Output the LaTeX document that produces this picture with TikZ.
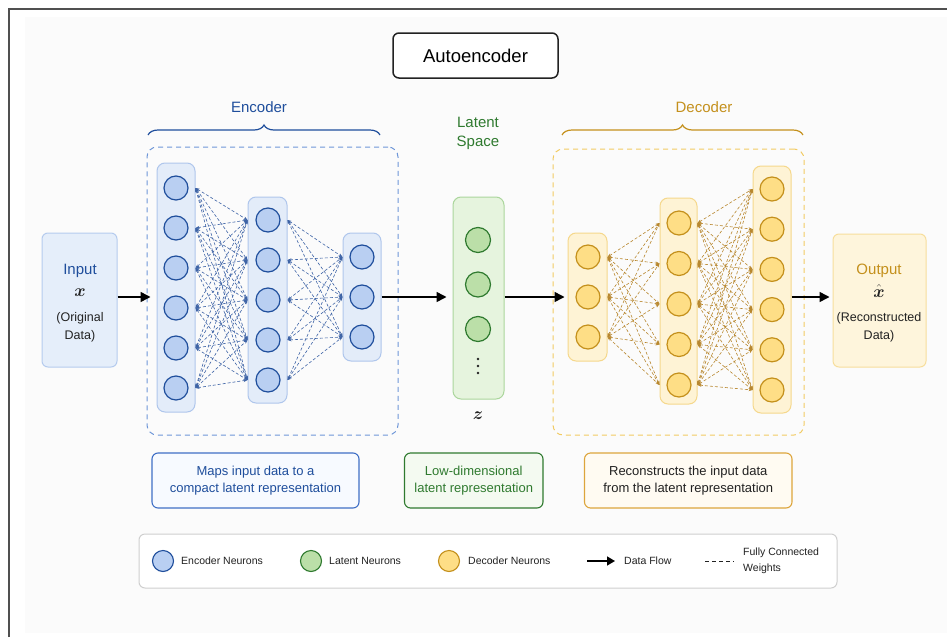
\documentclass[tikz,border=0pt]{standalone}
\usepackage{amsmath}
\usepackage{fontspec}
\setmainfont{Liberation Sans}
\usetikzlibrary{arrows.meta,decorations.pathreplacing,calc}

\definecolor{encdark}{HTML}{1F4E9C}
\definecolor{encfill}{HTML}{B9CFF2}
\definecolor{enccol}{HTML}{E3ECF9}
\definecolor{enccolline}{HTML}{AFC6EC}
\definecolor{encdash}{HTML}{6F97D8}
\definecolor{encwire}{HTML}{3D63A6}
\definecolor{encnote}{HTML}{F7FAFF}
\definecolor{encnoteline}{HTML}{3F6FC6}
\definecolor{latdark}{HTML}{2F7A2F}
\definecolor{latfill}{HTML}{BBDFA8}
\definecolor{latcol}{HTML}{E6F4DE}
\definecolor{latcolline}{HTML}{ABD69C}
\definecolor{latnote}{HTML}{F4FAF1}
\definecolor{decdark}{HTML}{C4901C}
\definecolor{decfill}{HTML}{FEDE86}
\definecolor{deccol}{HTML}{FEF3D5}
\definecolor{deccolline}{HTML}{F5D88C}
\definecolor{decdash}{HTML}{F2CB62}
\definecolor{decwire}{HTML}{B8872E}
\definecolor{decnote}{HTML}{FFFBF2}
\definecolor{decnoteline}{HTML}{DDA53C}
\definecolor{outfill}{HTML}{FEF5DC}
\definecolor{outline}{HTML}{F7DE9C}
\definecolor{infill}{HTML}{E5EEFA}
\definecolor{inline}{HTML}{B5CBEE}
\definecolor{framegray}{HTML}{505050}
\definecolor{pagegray}{HTML}{FBFBFB}
\definecolor{legline}{HTML}{CFCFCF}
\definecolor{textdark}{HTML}{222222}

\begin{document}
\begin{tikzpicture}[x=1pt,y=-1pt,
  column/.style={rectangle,rounded corners=8pt,line width=1pt,inner sep=0pt},
  enccolumn/.style={column,fill=enccol,draw=enccolline},
  latcolumn/.style={column,fill=latcol,draw=latcolline},
  deccolumn/.style={column,fill=deccol,draw=deccolline},
  neuron/.style={circle,minimum size=24pt,inner sep=0pt,line width=1.2pt},
  encneuron/.style={neuron,fill=encfill,draw=encdark},
  latneuron/.style={neuron,minimum size=25pt,fill=latfill,draw=latdark},
  decneuron/.style={neuron,fill=decfill,draw=decdark},
  wire/.style={line width=0.6pt,dash pattern=on 3pt off 2pt,
    {Stealth[length=4pt,width=3pt]}-{Stealth[length=4pt,width=3pt]}},
  flow/.style={line width=1.5pt,draw=black,-{Triangle[length=10pt,width=10pt]}},
  container/.style={rectangle,rounded corners=10pt,line width=1pt,dash pattern=on 5pt off 4pt,inner sep=0pt},
  notebox/.style={rectangle,rounded corners=6pt,line width=1.1pt,inner sep=0pt,align=center,
    font=\fontsize{13}{17}\selectfont},
  lbl/.style={font=\fontsize{15}{18}\selectfont,inner sep=0pt},
  small/.style={font=\fontsize{12.5}{15}\selectfont,inner sep=0pt,text=textdark},
  symb/.style={inner sep=0pt,font=\fontsize{16}{18}\selectfont,text=textdark},
  legtext/.style={font=\fontsize{10.5}{16}\selectfont,inner sep=0pt,anchor=west,text=textdark,align=left},
  legneuron/.style={circle,minimum size=21pt,inner sep=0pt,line width=1.1pt}
]
\useasboundingbox (0,0) rectangle (947,637);

% page and frame
\fill[white] (0,0) rectangle (947,637);
\fill[pagegray] (25,17) rectangle (947,633);
\draw[line width=2pt,framegray] (9,637) -- (9,9) -- (947,9);

% title
\node[rectangle,rounded corners=6pt,draw=textdark,line width=1.5pt,fill=white,
  minimum width=165pt,minimum height=45pt,inner sep=0pt,
  font=\fontsize{18.5}{22}\selectfont,text=black] (title) at (475.5,55.5) {Autoencoder};

% encoder / decoder dashed regions
\node[container,draw=encdash,minimum width=251pt,minimum height=288pt] (encregion) at (272.5,291) {};
\node[container,draw=decdash,minimum width=251pt,minimum height=286pt] (decregion) at (678.5,292) {};

% braces and group labels
\coordinate (encbraceL) at (148,135);
\coordinate (encbraceR) at (380,135);
\draw[encdark,line width=1.2pt,decorate,decoration={brace,amplitude=10pt}] (encbraceL) -- (encbraceR);
\node[lbl,text=encdark] (enclabel) at (259,107) {Encoder};
\coordinate (decbraceL) at (562,135);
\coordinate (decbraceR) at (803,135);
\draw[decdark,line width=1.2pt,decorate,decoration={brace,amplitude=10pt}] (decbraceL) -- (decbraceR);
\node[lbl,text=decdark] (declabel) at (704,107) {Decoder};
\node[lbl,text=latdark] (latlabelA) at (478,122) {Latent};
\node[lbl,text=latdark] (latlabelB) at (478,143) {Space};

% input box
\node[rectangle,rounded corners=6pt,fill=infill,draw=inline,line width=1pt,
  minimum width=75pt,minimum height=134pt,inner sep=0pt] (input) at (79.5,300) {};
\node[lbl,text=encdark] (inputA) at (80,271) {Input};
\node[symb] (inputB) at (80,293) {$\boldsymbol{x}$};
\node[small] (inputC) at (80,318) {(Original};
\node[small] (inputD) at (80,336) {Data)};

% output box
\node[rectangle,rounded corners=6pt,fill=outfill,draw=outline,line width=1pt,
  minimum width=93pt,minimum height=133pt,inner sep=0pt] (output) at (879.5,300.5) {};
\node[lbl,text=decdark] (outputA) at (879,271) {Output};
\node[symb] (outputB) at (879,291) {$\hat{\boldsymbol{x}}$};
\node[small] (outputC) at (879,318) {(Reconstructed};
\node[small] (outputD) at (879,336) {Data)};

% encoder layers
\node[enccolumn,minimum width=38pt,minimum height=249pt] (e1) at (176,287.5) {};
\node[enccolumn,minimum width=39pt,minimum height=206pt] (e2) at (267.5,300) {};
\node[enccolumn,minimum width=38pt,minimum height=128pt] (e3) at (362,297) {};
\foreach \i in {1,...,6} \node[encneuron] (e1-\i) at (176,{188+40*(\i-1)}) {};
\foreach \i in {1,...,5} \node[encneuron] (e2-\i) at (268,{220+40*(\i-1)}) {};
\foreach \i in {1,...,3} \node[encneuron] (e3-\i) at (362,{257+40*(\i-1)}) {};
\foreach \i in {1,...,6} \foreach \j in {1,...,5}
  \draw[wire,encwire] (e1.east |- e1-\i) -- (e2.west |- e2-\j);
\foreach \i in {1,...,5} \foreach \j in {1,...,3}
  \draw[wire,encwire] (e2.east |- e2-\i) -- (e3.west |- e3-\j);

% latent layer
\node[latcolumn,minimum width=51pt,minimum height=202pt] (lat) at (478.5,298) {};
\foreach \i in {1,...,3} \node[latneuron] (l-\i) at (478,{240+44.5*(\i-1)}) {};
% continuation dots below the latent neurons
\foreach \k in {0,1,2} \fill[textdark] (478,{359+7*\k}) circle (1.4pt);
\node[symb] (latz) at (478,416) {$\boldsymbol{z}$};

% decoder layers
\node[deccolumn,minimum width=39pt,minimum height=128pt] (d1) at (587.5,297) {};
\node[deccolumn,minimum width=37pt,minimum height=206pt] (d2) at (678.5,301) {};
\node[deccolumn,minimum width=38pt,minimum height=247pt] (d3) at (772,289.5) {};
\foreach \i in {1,...,3} \node[decneuron] (d1-\i) at (588,{257+40*(\i-1)}) {};
\foreach \i in {1,...,5} \node[decneuron] (d2-\i) at (679,{223+40.5*(\i-1)}) {};
\foreach \i in {1,...,6} \node[decneuron] (d3-\i) at (772,{189+40.2*(\i-1)}) {};
\foreach \i in {1,...,3} \foreach \j in {1,...,5}
  \draw[wire,decwire] (d1.east |- d1-\i) -- (d2.west |- d2-\j);
\foreach \i in {1,...,5} \foreach \j in {1,...,6}
  \draw[wire,decwire] (d2.east |- d2-\i) -- (d3.west |- d3-\j);

% data flow
\draw[flow,shorten >=6pt] (input.east |- e3) -- (e1.west |- e3);
\draw[flow,shorten >=6pt] (e3.east) -- (lat.west |- e3);
\draw[flow,shorten >=3pt] (lat.east |- d1) -- (d1.west);
\draw[flow,shorten >=3pt] (d3.east |- d1) -- (output.west |- d1);

% description boxes
\node[notebox,fill=encnote,draw=encnoteline,text=encdark,minimum width=207pt,minimum height=55pt]
  (encnote) at (255.5,480.5) {Maps input data to a\\compact latent representation};
\node[notebox,fill=latnote,draw=latdark,text=latdark,minimum width=138.5pt,minimum height=55pt]
  (latnote) at (473.75,480.5) {Low-dimensional\\latent representation};
\node[notebox,fill=decnote,draw=decnoteline,text=textdark,minimum width=207.5pt,minimum height=55pt]
  (decnote) at (688.25,480.5) {Reconstructs the input data\\from the latent representation};

% legend
\node[rectangle,rounded corners=6pt,fill=white,draw=legline,line width=1pt,
  minimum width=698pt,minimum height=54pt,inner sep=0pt] (legend) at (488,561) {};
\node[legneuron,fill=encfill,draw=encdark] (legenc) at (163,561) {};
\node[legtext] (legenctext) at (181,561) {Encoder Neurons};
\node[legneuron,fill=latfill,draw=latdark] (leglat) at (311,561) {};
\node[legtext] (leglattext) at (329,561) {Latent Neurons};
\node[legneuron,fill=decfill,draw=decdark] (legdec) at (449,561) {};
\node[legtext] (legdectext) at (468,561) {Decoder Neurons};
\coordinate (legflowA) at (587,561);
\coordinate (legflowB) at (615,561);
\draw[line width=1.5pt,-{Triangle[length=8pt,width=9pt]}] (legflowA) -- (legflowB);
\node[legtext] (legflowtext) at (624,561) {Data Flow};
\coordinate (legwireA) at (705,561);
\coordinate (legwireB) at (734,561);
\draw[line width=0.9pt,dash pattern=on 4pt off 3pt,textdark] (legwireA) -- (legwireB);
\node[legtext] (legwiretext) at (743,561) {Fully Connected\\Weights};
\end{tikzpicture}
\end{document}
